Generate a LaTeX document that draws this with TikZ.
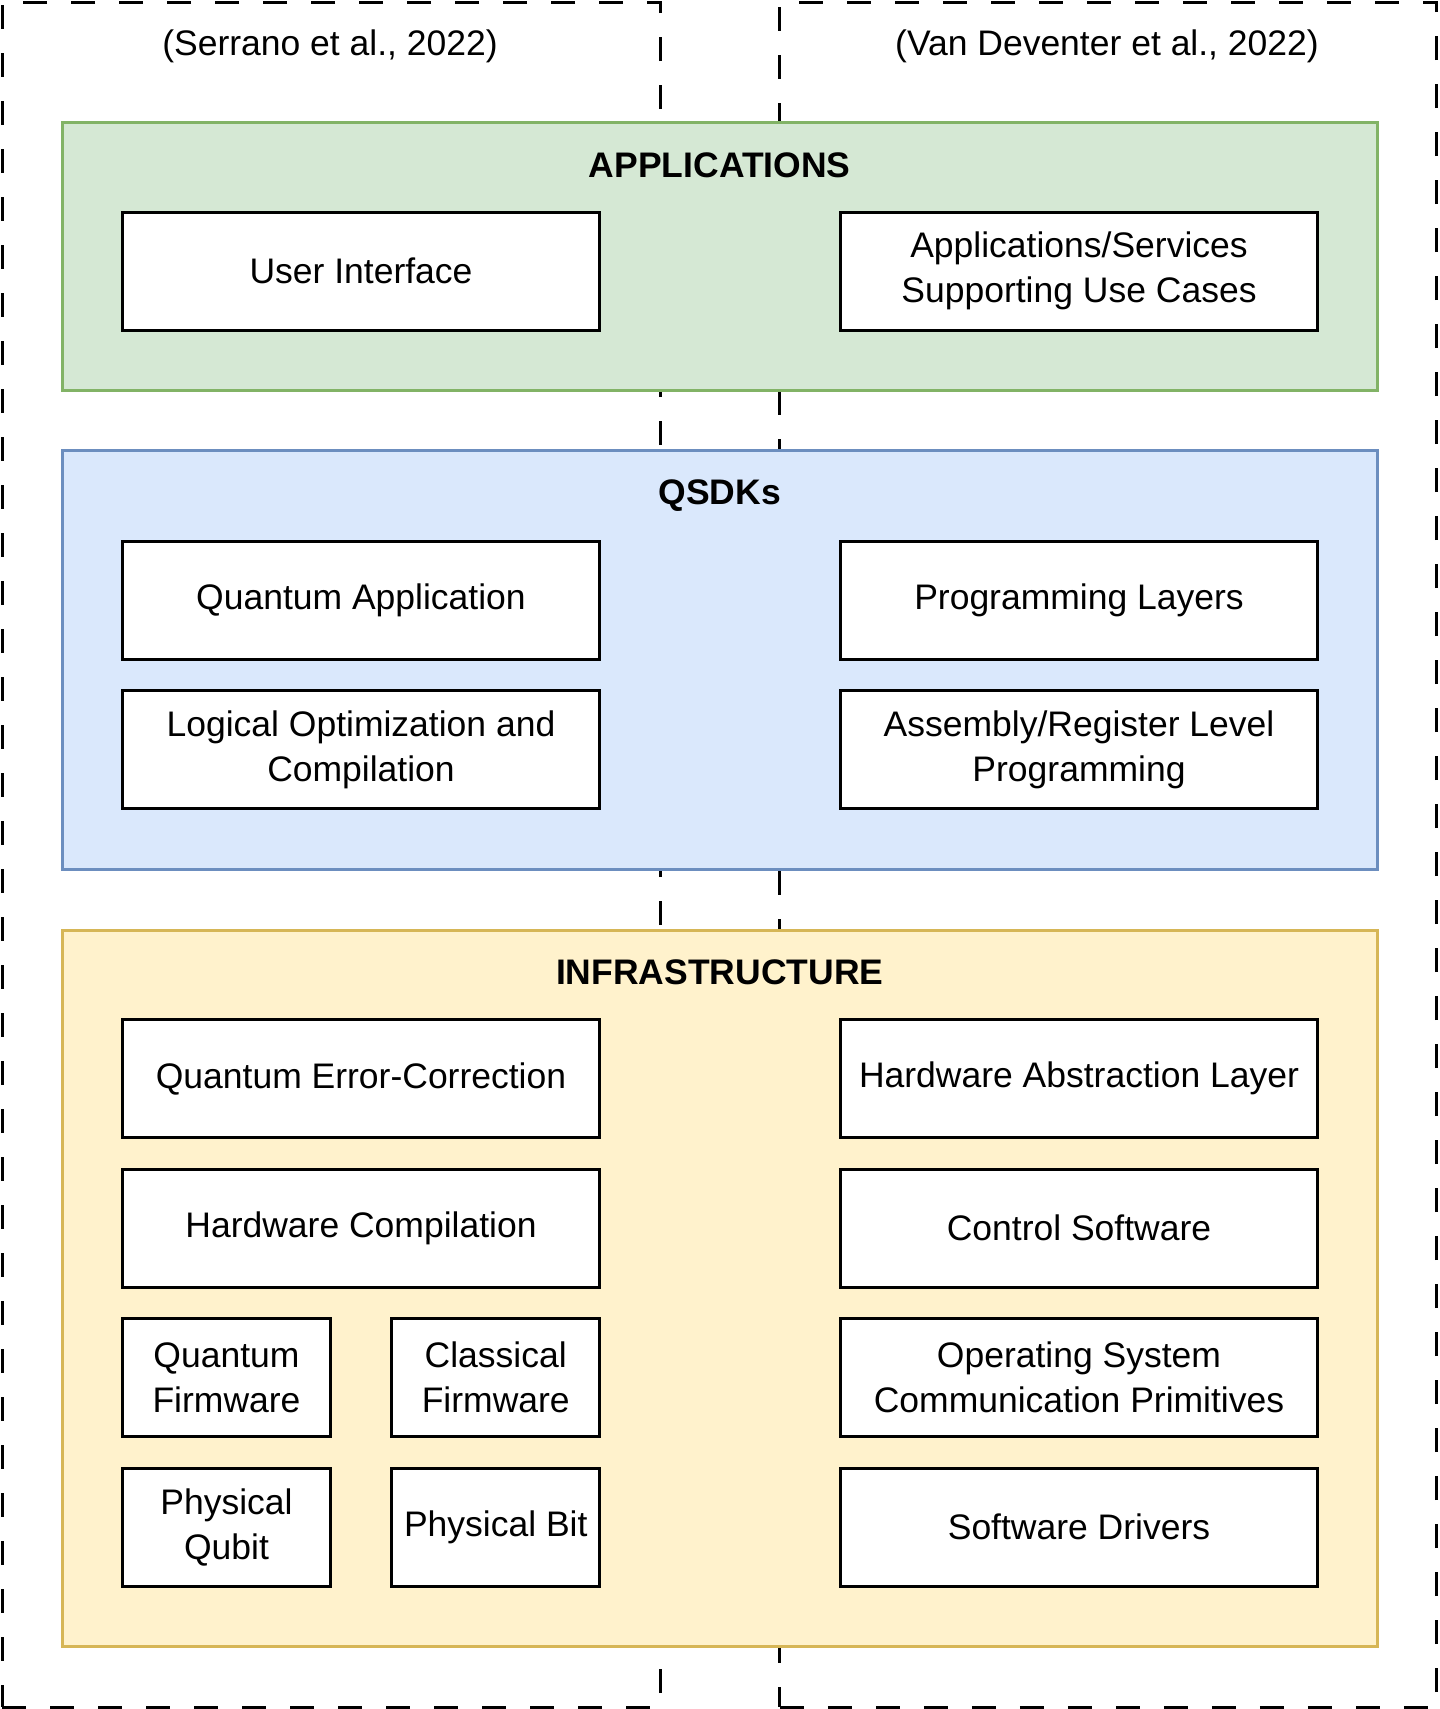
\documentclass[tikz,border=0pt]{standalone}
\usepackage{fontspec}
\setmainfont{Liberation Sans}
\definecolor{appfill}{HTML}{D5E8D4}
\definecolor{appline}{HTML}{82B366}
\definecolor{sdkfill}{HTML}{DAE8FC}
\definecolor{sdkline}{HTML}{6C8EBF}
\definecolor{infill}{HTML}{FFF2CC}
\definecolor{inline}{HTML}{D6B656}
\begin{document}
\begin{tikzpicture}[x=1pt,y=-1pt,
  every node/.style={font=\fontsize{35.5}{45}\selectfont, align=center, inner sep=0pt, outer sep=0pt},
  frame/.style={draw=black, line width=3pt, dash pattern=on 24pt off 24pt, rectangle},
  layer/.style={rectangle, line width=3pt},
  item/.style={rectangle, draw=black, fill=white, line width=3pt, minimum height=118pt},
  wide/.style={item, minimum width=477pt},
  small/.style={item, minimum width=208pt},
  lbl/.style={font=\fontsize{35.5}{45}\selectfont},
  ttl/.style={font=\fontsize{35.5}{45}\selectfont\bfseries}
]
\useasboundingbox (0,0) rectangle (1440,1709);
% reference frames
\node[frame, minimum width=658pt, minimum height=1705pt] (lframe) at (331,854.5) {};
\node[frame, minimum width=657pt, minimum height=1705pt] (rframe) at (1108.3,854.5) {};
\node[lbl] (lcite) at (330,46) {(Serrano et al., 2022)};
\node[lbl] (rcite) at (1107,46) {(Van Deventer et al., 2022)};
% layers
\node[layer, draw=appline, fill=appfill, minimum width=1315.5pt, minimum height=268pt] (apps) at (719.75,256) {};
\node[layer, draw=sdkline, fill=sdkfill, minimum width=1315.5pt, minimum height=419pt] (sdks) at (719.75,659.5) {};
\node[layer, draw=inline, fill=infill, minimum width=1315.5pt, minimum height=716.5pt] (infra) at (719.75,1288.25) {};
\node[ttl] (appst) at (719.75,165) {APPLICATIONS};
\node[ttl] (sdkst) at (719.75,495.5) {QSDKs};
\node[ttl] (infrat) at (719.75,972.5) {INFRASTRUCTURE};
% applications
\node[wide] (ui) at (361,271) {User Interface};
\node[wide] (svc) at (1079,271) {Applications/Services\\Supporting Use Cases};
% qsdks
\node[wide] (qa) at (361,600) {Quantum Application};
\node[wide] (lo) at (361,749.5) {Logical Optimization and\\Compilation};
\node[wide] (pl) at (1079,600) {Programming Layers};
\node[wide] (ar) at (1079,749.5) {Assembly/Register Level\\Programming};
% infrastructure
\node[wide] (qec) at (361,1078.5) {Quantum Error-Correction};
\node[wide] (hc) at (361,1228) {Hardware Compilation};
\node[small] (qf) at (226.5,1377.5) {Quantum\\Firmware};
\node[small] (cf) at (495.75,1377.5) {Classical\\Firmware};
\node[small] (pq) at (226.5,1527) {Physical\\Qubit};
\node[small] (pb) at (495.75,1527) {Physical Bit};
\node[wide] (hal) at (1079,1078.5) {Hardware Abstraction Layer};
\node[wide] (cs) at (1079,1228) {Control Software};
\node[wide] (os) at (1079,1377.5) {Operating System\\Communication Primitives};
\node[wide] (sd) at (1079,1527) {Software Drivers};
\end{tikzpicture}
\end{document}
